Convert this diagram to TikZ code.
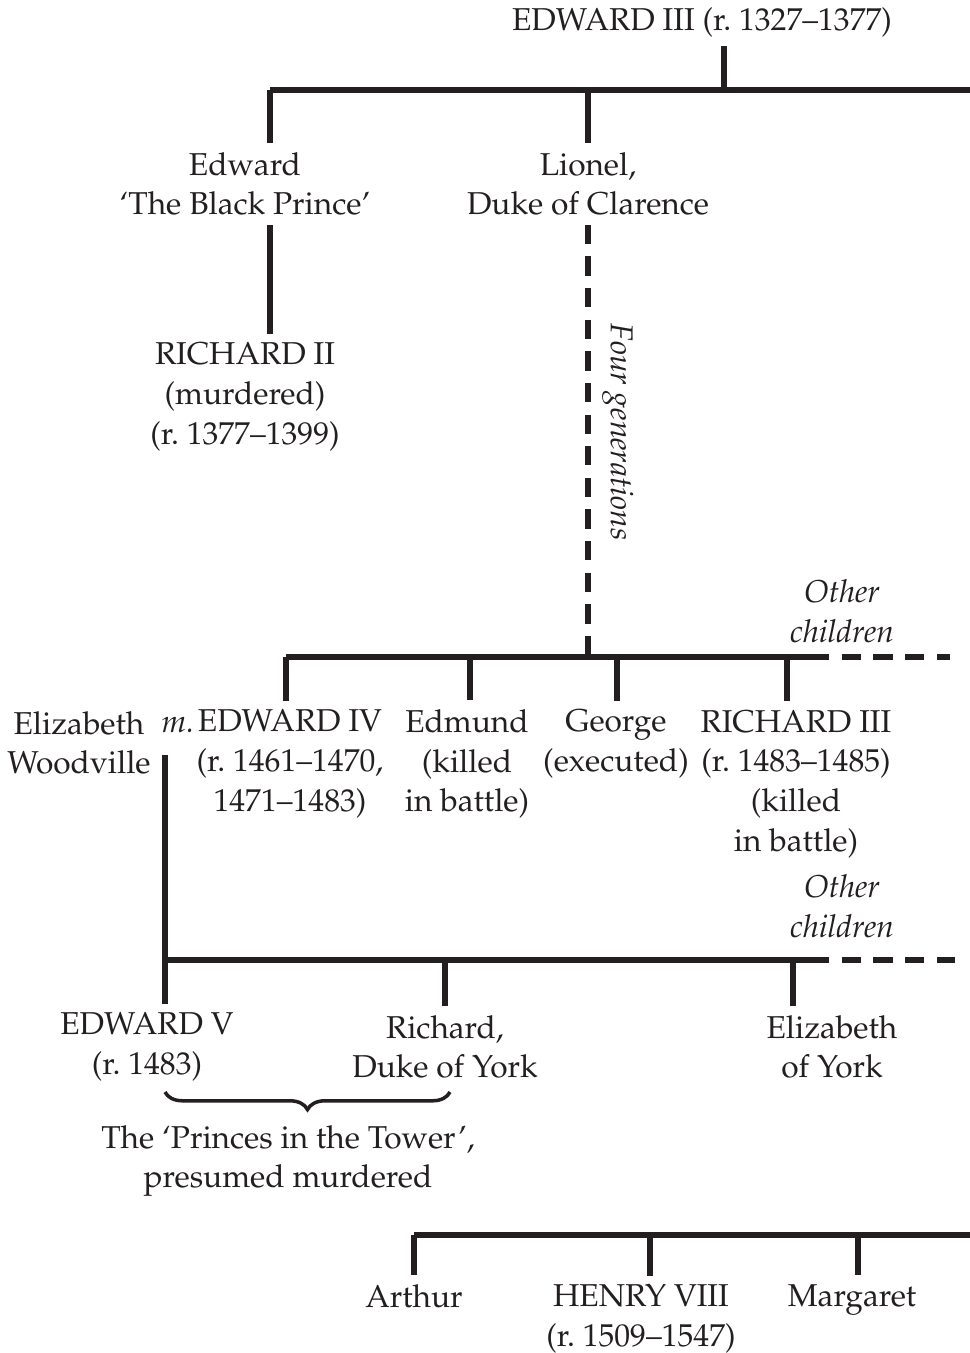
\documentclass[tikz,border=0pt]{standalone}
\usepackage[T1]{fontenc}
\usepackage{mathpazo}
\usetikzlibrary{positioning}
\usetikzlibrary{calc,decorations.pathreplacing}
\definecolor{tree-ink}{HTML}{231F20}

\begin{document}
\begin{tikzpicture}[
    x=0.02cm, y=-0.02cm, % one unit is one pixel of the page
    font=\fontsize{18}{22.6}\selectfont,
    line cap=butt
  ]

  % Styles for the family tree
  \tikzset{
    person/.style={align=center, text=tree-ink, inner xsep=0pt, inner ysep=5pt},
    note/.style={person, font=\fontsize{18}{22.6}\selectfont\itshape},
    bar/.style={draw=tree-ink, line width=3.2pt},
    more/.style={bar, dash pattern=on 11pt off 7pt}
  }

  \useasboundingbox (0,0) rectangle (970,1353);

  % Edward III and his sons
  \node (edw3)   [person] at (702,22)  {EDWARD III (r.~1327--1377)};
  \node (blackp) [person] at (245,184) {Edward\\`The Black Prince'};
  \node (lionel) [person] at (588,184) {Lionel,\\Duke of Clarence};
  \node (rich2)  [person] at (245,397) {RICHARD II\\(murdered)\\(r.~1377--1399)};

  \coordinate (b1l) at (270,90);
  \coordinate (b1m) at (724,90);
  \coordinate (b1r) at (970,90);

  \draw[bar] (edw3.south -| b1m) -- (b1m);
  \draw[bar] (b1l) -- (b1r);
  \draw[bar] (b1l) -- (blackp.north -| b1l);
  \draw[bar] (lionel.north |- b1l) -- (lionel.north);
  \draw[bar] (blackp.south -| b1l) -- (rich2.north -| b1l);

  % Four generations later: the house of York
  \coordinate (b2l) at (286,657);
  \coordinate (b2e) at (810,657);
  \coordinate (b2r) at (950,657);

  \draw[more] (lionel.south) -- (lionel.south |- b2l);
  \node (fourgen) [note, rotate=-90] at (618,432) {Four generations};

  \node (edw4)   [person] at (290,764) {EDWARD IV\\(r.~1461--1470,\\1471--1483)};
  \node (edmund) [person] at (467,764) {Edmund\\(killed\\in battle)};
  \node (george) [person] at (616,744) {George\\(executed)};
  \node (rich3)  [person] at (796,784) {RICHARD III\\(r.~1483--1485)\\(killed\\in battle)};
  \node (others1) [note] at (842,611) {Other\\children};

  \node (eliwood) [person] at (79,743) {Elizabeth\\Woodville};
  \node (marr)    [person] at (178,725) {\textit{m.}};

  \draw[bar] (b2l) -- (b2e);
  \draw[more] (b2e) -- (b2r);
  \draw[bar] (b2l) -- (edw4.north -| b2l);
  \draw[bar] (470,657) -- (edmund.north -| 470,0);
  \draw[bar] (617,657) -- (george.north -| 617,0);
  \draw[bar] (787,657) -- (rich3.north -| 787,0);

  % Children of Edward IV
  \coordinate (wtop) at (165,755);
  \coordinate (b3l) at (165,960);
  \coordinate (b3e) at (810,960);
  \coordinate (b3r) at (955,960);

  \node (edw5)   [person] at (147,1047) {EDWARD V\\(r.~1483)};
  \node (york)   [person] at (445,1047) {Richard,\\Duke of York};
  \node (eliyork)[person] at (832,1047) {Elizabeth\\of York};
  \node (others2) [note] at (842,906) {Other\\children};

  \draw[bar] (wtop) -- (b3l) -- (edw5.north -| b3l);
  \draw[bar] (b3l) -- (b3e);
  \draw[more] (b3e) -- (b3r);
  \draw[bar] (york.north |- b3l) -- (york.north);
  \draw[bar] (793,960) -- (eliyork.north -| 793,0);

  % The princes in the tower
  \coordinate (brl) at (165,1092);
  \coordinate (brr) at (450,1092);
  \draw[draw=tree-ink, line width=2pt, decorate,
        decoration={brace, mirror, amplitude=10pt}] (brl) -- (brr);
  \node (princes) [person] at (288,1161) {The `Princes in the Tower',\\presumed murdered};

  % Children of Elizabeth of York
  \coordinate (b4l) at (414,1235);
  \coordinate (b4r) at (970,1235);

  \node (arthur) [person] at (414,1296) {Arthur};
  \node (henry8) [person] at (641,1319) {HENRY VIII\\(r.~1509--1547)};
  \node (marg)   [person] at (852,1300) {Margaret};

  \draw[bar] (b4l) -- (b4r);
  \draw[bar] (b4l) -- (arthur.north);
  \draw[bar] (650,1235) -- (henry8.north -| 650,0);
  \draw[bar] (858,1235) -- (marg.north -| 858,0);

\end{tikzpicture}
\end{document}
